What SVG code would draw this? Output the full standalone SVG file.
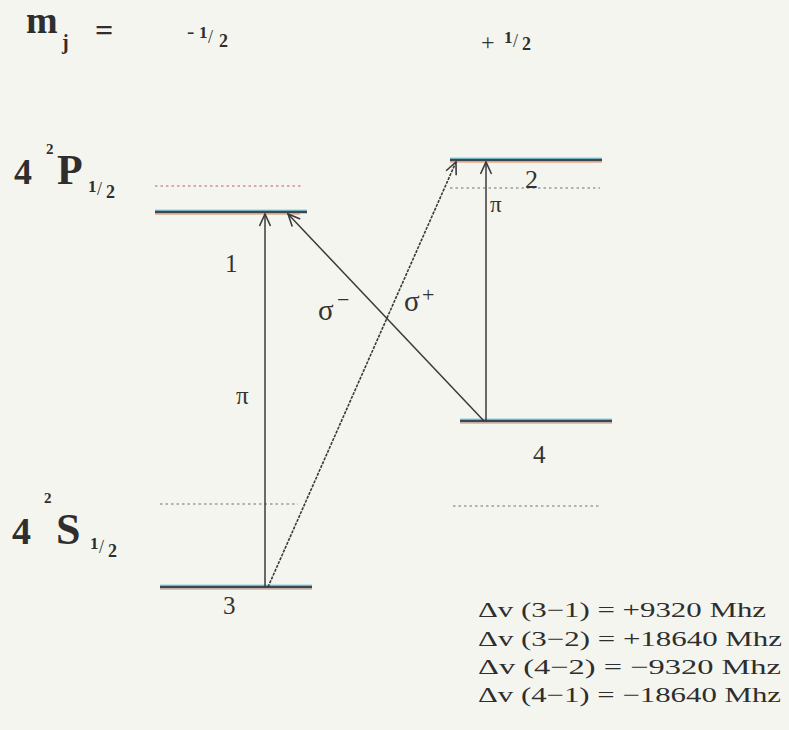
<svg xmlns="http://www.w3.org/2000/svg" width="789" height="730" viewBox="0 0 789 730">
<defs>
<marker id="arr" viewBox="0 0 14 14" refX="13" refY="7" markerWidth="14" markerHeight="14" markerUnits="userSpaceOnUse" orient="auto">
<path d="M1,1.5 L13,7 L1,12.5" fill="none" stroke="#3a3a3a" stroke-width="1.6"/>
</marker>
</defs>
<style>
.bg{fill:#f5f5ef}
.lvl{stroke:#3e4652;stroke-width:2.4}
.cy{stroke:#86d6e6;stroke-width:1.4}
.or{stroke:#e6a887;stroke-width:1.2}
.dot{stroke:#9a9aa4;stroke-width:1.3;stroke-dasharray:2.5 3}
.dotp{stroke:#d08aa8;stroke-width:1.3;stroke-dasharray:2.5 3}
.tr{stroke:#3a3a3a;stroke-width:1.5;fill:none}
.trd{stroke:#3a3a3a;stroke-width:1.6;fill:none;stroke-dasharray:3 1.2}
.big{font-family:"Liberation Serif",serif;font-weight:bold;fill:#2e2e2e}
.t{font-family:"Liberation Serif",serif;fill:#333}
.eq{font-family:"Liberation Serif",serif;font-size:21px;fill:#2e2e2e}
</style>
<rect class="bg" x="0" y="0" width="789" height="730"/>

<g id="header">
<text class="big" x="26" y="33" font-size="38">m</text>
<text class="big" x="62" y="49" font-size="20">j</text>
<text class="big" x="95" y="41" font-size="32">=</text>
<text class="t" x="187" y="38" font-size="22">-</text>
<text class="big" x="199" y="38" font-size="17">1</text>
<text class="t" x="208" y="43" font-size="18">/</text>
<text class="big" x="219" y="47" font-size="18">2</text>
<text class="t" x="481" y="50" font-size="24">+</text>
<text class="big" x="504" y="43" font-size="17">1</text>
<text class="t" x="513" y="47" font-size="18">/</text>
<text class="big" x="522" y="50" font-size="18">2</text>
</g>

<g id="term-P">
<text class="big" x="14" y="184" font-size="36">4</text>
<text class="big" x="46" y="154" font-size="15">2</text>
<text class="big" x="57" y="184" font-size="42">P</text>
<text class="big" x="88" y="192" font-size="17">1</text>
<text class="t" x="97" y="195" font-size="18">/</text>
<text class="big" x="106" y="198" font-size="18">2</text>
</g>

<g id="term-S">
<text class="big" x="12" y="544" font-size="38">4</text>
<text class="big" x="44" y="503" font-size="15">2</text>
<text class="big" x="56" y="544" font-size="44">S</text>
<text class="big" x="90" y="549" font-size="17">1</text>
<text class="t" x="99" y="553" font-size="18">/</text>
<text class="big" x="108" y="557" font-size="18">2</text>
</g>

<g id="unperturbed">
<line class="dotp" x1="155" y1="186" x2="303" y2="186"/>
<line class="dot" x1="450" y1="188" x2="600" y2="188"/>
<line class="dot" x1="160" y1="504" x2="298" y2="504"/>
<line class="dot" x1="453" y1="506" x2="600" y2="506"/>
</g>

<g id="level1">
<line class="cy" x1="155" y1="210.3" x2="307" y2="210.3"/>
<line class="or" x1="155" y1="214.2" x2="300" y2="214.2"/>
<line class="lvl" x1="155" y1="212" x2="307" y2="212"/>
<text class="t" x="225" y="272" font-size="25">1</text>
</g>

<g id="level2">
<line class="cy" x1="450" y1="158.3" x2="602" y2="158.3"/>
<line class="or" x1="450" y1="162.2" x2="602" y2="162.2"/>
<line class="lvl" x1="450" y1="160" x2="602" y2="160"/>
<text class="t" x="525" y="188" font-size="26">2</text>
</g>

<g id="level4">
<line class="cy" x1="460" y1="419.3" x2="612" y2="419.3"/>
<line class="or" x1="460" y1="423.2" x2="612" y2="423.2"/>
<line class="lvl" x1="460" y1="421" x2="612" y2="421"/>
<text class="t" x="533" y="463" font-size="25">4</text>
</g>

<g id="level3">
<line class="cy" x1="160" y1="585.3" x2="312" y2="585.3"/>
<line class="or" x1="160" y1="589.2" x2="312" y2="589.2"/>
<line class="lvl" x1="160" y1="587" x2="312" y2="587"/>
<text class="t" x="223" y="614" font-size="25">3</text>
</g>

<g id="connectors">
<line class="tr" x1="265" y1="587" x2="265" y2="214" marker-end="url(#arr)"/>
<line class="trd" x1="268" y1="587" x2="456" y2="162" marker-end="url(#arr)"/>
<line class="tr" x1="484" y1="421" x2="288" y2="214" marker-end="url(#arr)"/>
<line class="tr" x1="486" y1="421" x2="486" y2="162" marker-end="url(#arr)"/>
</g>

<g id="labels">
<text class="t" x="236" y="404" font-size="25">π</text>
<text class="t" x="490" y="212" font-size="23">π</text>
<text class="t" x="318" y="320" font-size="29">σ</text>
<text class="t" x="337" y="307" font-size="22">−</text>
<text class="t" x="404" y="311" font-size="29">σ</text>
<text class="t" x="422" y="302" font-size="22">+</text>
</g>

<g id="shifts">
<text class="eq" x="478" y="617" textLength="288" lengthAdjust="spacingAndGlyphs">Δv (3−1) = +9320 Mhz</text>
<text class="eq" x="478" y="646" textLength="304" lengthAdjust="spacingAndGlyphs">Δv (3−2) = +18640  Mhz</text>
<text class="eq" x="478" y="674" textLength="303" lengthAdjust="spacingAndGlyphs">Δv (4−2) = −9320  Mhz</text>
<text class="eq" x="478" y="702" textLength="303" lengthAdjust="spacingAndGlyphs">Δv (4−1) = −18640 Mhz</text>
</g>
</svg>
